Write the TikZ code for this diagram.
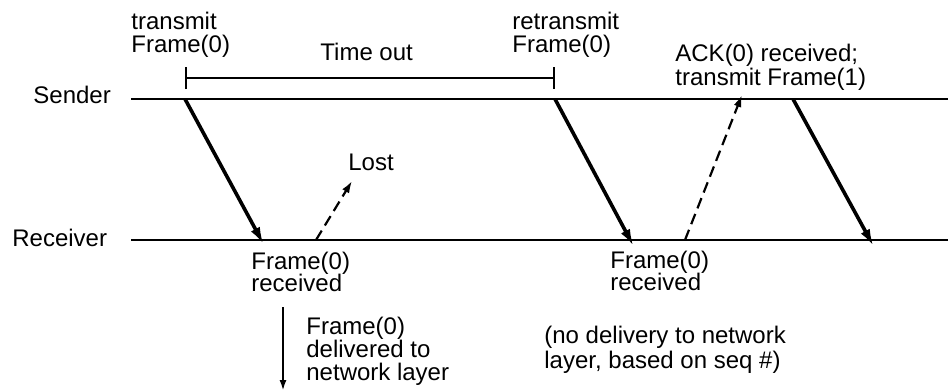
\documentclass[tikz,border=0pt]{standalone}
\usepackage{fontspec}
\setmainfont{Liberation Sans}
\usetikzlibrary{arrows.meta}
\tikzset{
    % thin horizontal time lines
    lifeline/.style={line width=0.6pt},
    % data frames and acknowledgements
    frame/.style={line width=1.8pt,-{Latex[length=9pt,width=5pt]}},
    ack/.style={line width=1.1pt,dash pattern=on 5.5pt off 3pt,-{Latex[length=6pt,width=4pt]}},
    % multi-line labels sit on the baseline of their last line
    label/.style={anchor=base west,inner sep=0pt,align=left,font=\fontsize{12}{12}\selectfont},
}

\begin{document}
\begin{tikzpicture}[x=0.5pt,y=-0.5pt]
    \useasboundingbox (0,0) rectangle (948,391);
    % time lines
    \node[label] (snd) at (33,103) {Sender};
    \node[label] (rcv) at (12,246) {Receiver};
    \coordinate (s0) at (131,99);
    \coordinate (s1) at (948,99);
    \coordinate (r0) at (131,240);
    \coordinate (r1) at (948,240);
    \draw[lifeline] (s0) -- (s1);
    \draw[lifeline] (r0) -- (r1);
    % timer
    \coordinate (t0) at (185,78);
    \coordinate (t1) at (555,78);
    \draw[line width=1.1pt,{Bar[width=11pt]}-{Bar[width=11pt]}] (t0) -- (t1);
    \node[label] (tout) at (320,60) {Time out};
    \node[label] (tx0) at (131,53) {transmit\\Frame(0)};
    \node[label] (rtx0) at (512,53) {retransmit\\Frame(0)};
    \node[label] (ack0) at (675,85) {ACK(0) received;\\transmit Frame(1)};
    % frames
    \coordinate (f0a) at (185,99);
    \coordinate (f0b) at (264,245);
    \coordinate (f1a) at (555,99);
    \coordinate (f1b) at (634,247);
    \coordinate (f2a) at (793,99);
    \coordinate (f2b) at (874,247);
    \draw[frame] (f0a) -- (f0b);
    \draw[frame] (f1a) -- (f1b);
    \draw[frame] (f2a) -- (f2b);
    % acks
    \coordinate (a0a) at (316,240);
    \coordinate (a0b) at (352,181);
    \coordinate (a1a) at (685,240);
    \coordinate (a1b) at (742,95);
    \draw[ack] (a0a) -- (a0b);
    \draw[ack] (a1a) -- (a1b);
    \node[label] (lost) at (348,170) {Lost};
    % receiver side
    \node[label] (rx0) at (251,291) {Frame(0)\\[-1pt]received};
    \node[label] (rx1) at (610,290) {Frame(0)\\[-1pt]received};
    \coordinate (d0) at (283,307);
    \coordinate (d1) at (283,391);
    \draw[line width=1.1pt,-{Latex[length=5.5pt,width=3.5pt]}] (d0) -- (d1);
    \node[label] (dlv) at (306,380) {Frame(0)\\[-0.5pt]delivered to\\[-0.5pt]network layer};
    \node[label] (nodlv) at (544,368) {(no delivery to network\\[0.5pt]layer, based on seq \#)};
\end{tikzpicture}
\end{document}
